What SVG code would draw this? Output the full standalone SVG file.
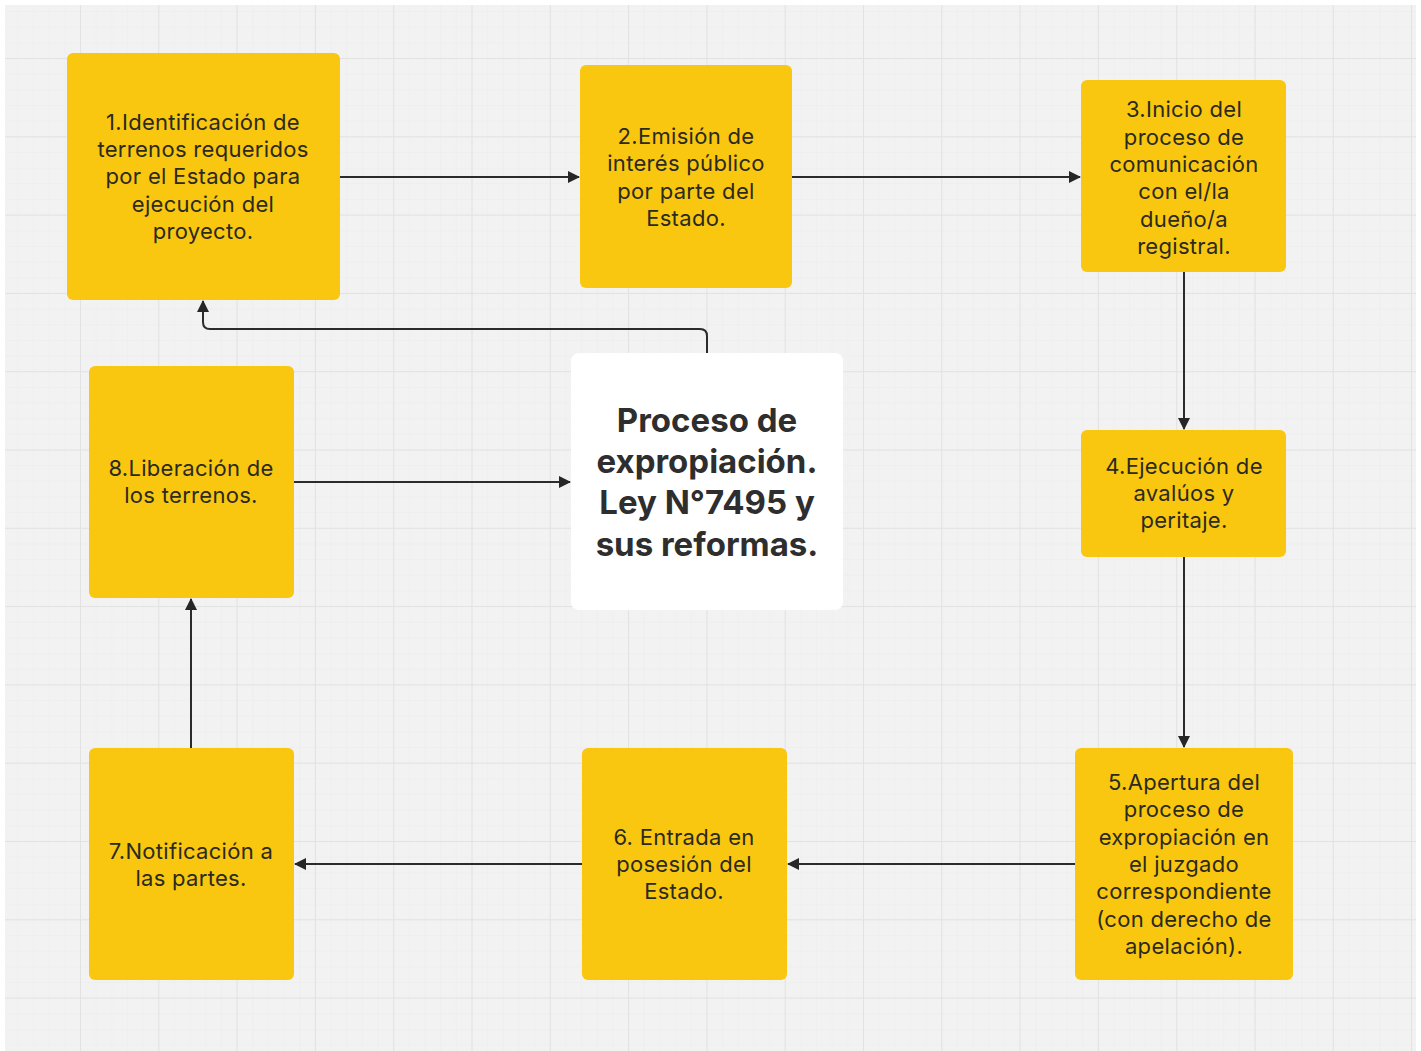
<svg xmlns="http://www.w3.org/2000/svg" width="1421" height="1051" viewBox="0 0 1421 1051">
  <defs>
    <pattern id="minor" x="80" y="58" width="15.66" height="15.66" patternUnits="userSpaceOnUse">
      <path d="M0 0V15.66M0 0H15.66" fill="none" stroke="#ebebeb" stroke-width="1"/>
    </pattern>
    <pattern id="major" x="80" y="58" width="78.3" height="78.3" patternUnits="userSpaceOnUse">
      <path d="M0 0V78.3M0 0H78.3" fill="none" stroke="#e2e2e2" stroke-width="2"/>
    </pattern>
    <marker id="arrow" viewBox="0 0 12 12" refX="11" refY="6" markerWidth="12" markerHeight="12" markerUnits="userSpaceOnUse" orient="auto">
      <path d="M0 0L12 6L0 12Z" fill="#262626"/>
    </marker>
    <style>
      .step rect { fill: #f9c710; }
      .step text { font-family: Inter, "Noto Sans", sans-serif; font-size: 22px; letter-spacing: 0.3px; fill: #2b2a20; text-anchor: middle; }
      .title rect { fill: #ffffff; }
      .title text { font-family: Inter, "Noto Sans", sans-serif; font-size: 33px; font-weight: bold; fill: #2e2e2e; text-anchor: middle; }
      .conn path { fill: none; stroke: #2b2b2b; stroke-width: 2; marker-end: url(#arrow); }
    </style>
  </defs>

  <!-- canvas -->
  <rect x="0" y="0" width="1421" height="1051" fill="#ffffff"/>
  <rect x="5" y="5" width="1411" height="1046" fill="#f2f2f2"/>
  <rect x="5" y="5" width="1411" height="1046" fill="url(#minor)"/>
  <rect x="5" y="5" width="1411" height="1046" fill="url(#major)"/>

  <!-- connectors -->
  <g id="connectors" class="conn">
    <path d="M340 177H579"/>
    <path d="M792 177H1080"/>
    <path d="M1184 272V429"/>
    <path d="M1184 557V747"/>
    <path d="M1075 864H788"/>
    <path d="M582 864H295"/>
    <path d="M191 748V599"/>
    <path d="M294 482H570"/>
    <path d="M707 353V336Q707 329 700 329H210Q203 329 203 322V301"/>
  </g>

  <!-- nodes -->
  <g id="node1" class="step">
    <rect x="67" y="53" width="273" height="247" rx="6"/>
    <text x="203" y="130">1.Identificación de</text>
    <text x="203" y="157">terrenos requeridos</text>
    <text x="203" y="184">por el Estado para</text>
    <text x="203" y="212">ejecución del</text>
    <text x="203" y="239">proyecto.</text>
  </g>
  <g id="node2" class="step">
    <rect x="580" y="65" width="212" height="223" rx="6"/>
    <text x="686" y="144">2.Emisión de</text>
    <text x="686" y="171">interés público</text>
    <text x="686" y="199">por parte del</text>
    <text x="686" y="226">Estado.</text>
  </g>
  <g id="node3" class="step">
    <rect x="1081" y="80" width="205" height="192" rx="6"/>
    <text x="1184" y="117">3.Inicio del</text>
    <text x="1184" y="145">proceso de</text>
    <text x="1184" y="172">comunicación</text>
    <text x="1184" y="199">con el/la</text>
    <text x="1184" y="227">dueño/a</text>
    <text x="1184" y="254">registral.</text>
  </g>
  <g id="node4" class="step">
    <rect x="1081" y="430" width="205" height="127" rx="6"/>
    <text x="1184" y="474">4.Ejecución de</text>
    <text x="1184" y="501">avalúos y</text>
    <text x="1184" y="528">peritaje.</text>
  </g>
  <g id="node5" class="step">
    <rect x="1075" y="748" width="218" height="232" rx="6"/>
    <text x="1184" y="790">5.Apertura del</text>
    <text x="1184" y="817">proceso de</text>
    <text x="1184" y="845">expropiación en</text>
    <text x="1184" y="872">el juzgado</text>
    <text x="1184" y="899">correspondiente</text>
    <text x="1184" y="927">(con derecho de</text>
    <text x="1184" y="954">apelación).</text>
  </g>
  <g id="node6" class="step">
    <rect x="582" y="748" width="205" height="232" rx="6"/>
    <text x="684" y="845">6. Entrada en</text>
    <text x="684" y="872">posesión del</text>
    <text x="684" y="899">Estado.</text>
  </g>
  <g id="node7" class="step">
    <rect x="89" y="748" width="205" height="232" rx="6"/>
    <text x="191" y="859">7.Notificación a</text>
    <text x="191" y="886">las partes.</text>
  </g>
  <g id="node8" class="step">
    <rect x="89" y="366" width="205" height="232" rx="6"/>
    <text x="191" y="476">8.Liberación de</text>
    <text x="191" y="503">los terrenos.</text>
  </g>
  <g id="title" class="title">
    <rect x="571" y="353" width="272" height="257" rx="8"/>
    <text x="707" y="432">Proceso de</text>
    <text x="707" y="473">expropiación.</text>
    <text x="707" y="514">Ley N°7495 y</text>
    <text x="707" y="556">sus reformas.</text>
  </g>
</svg>
